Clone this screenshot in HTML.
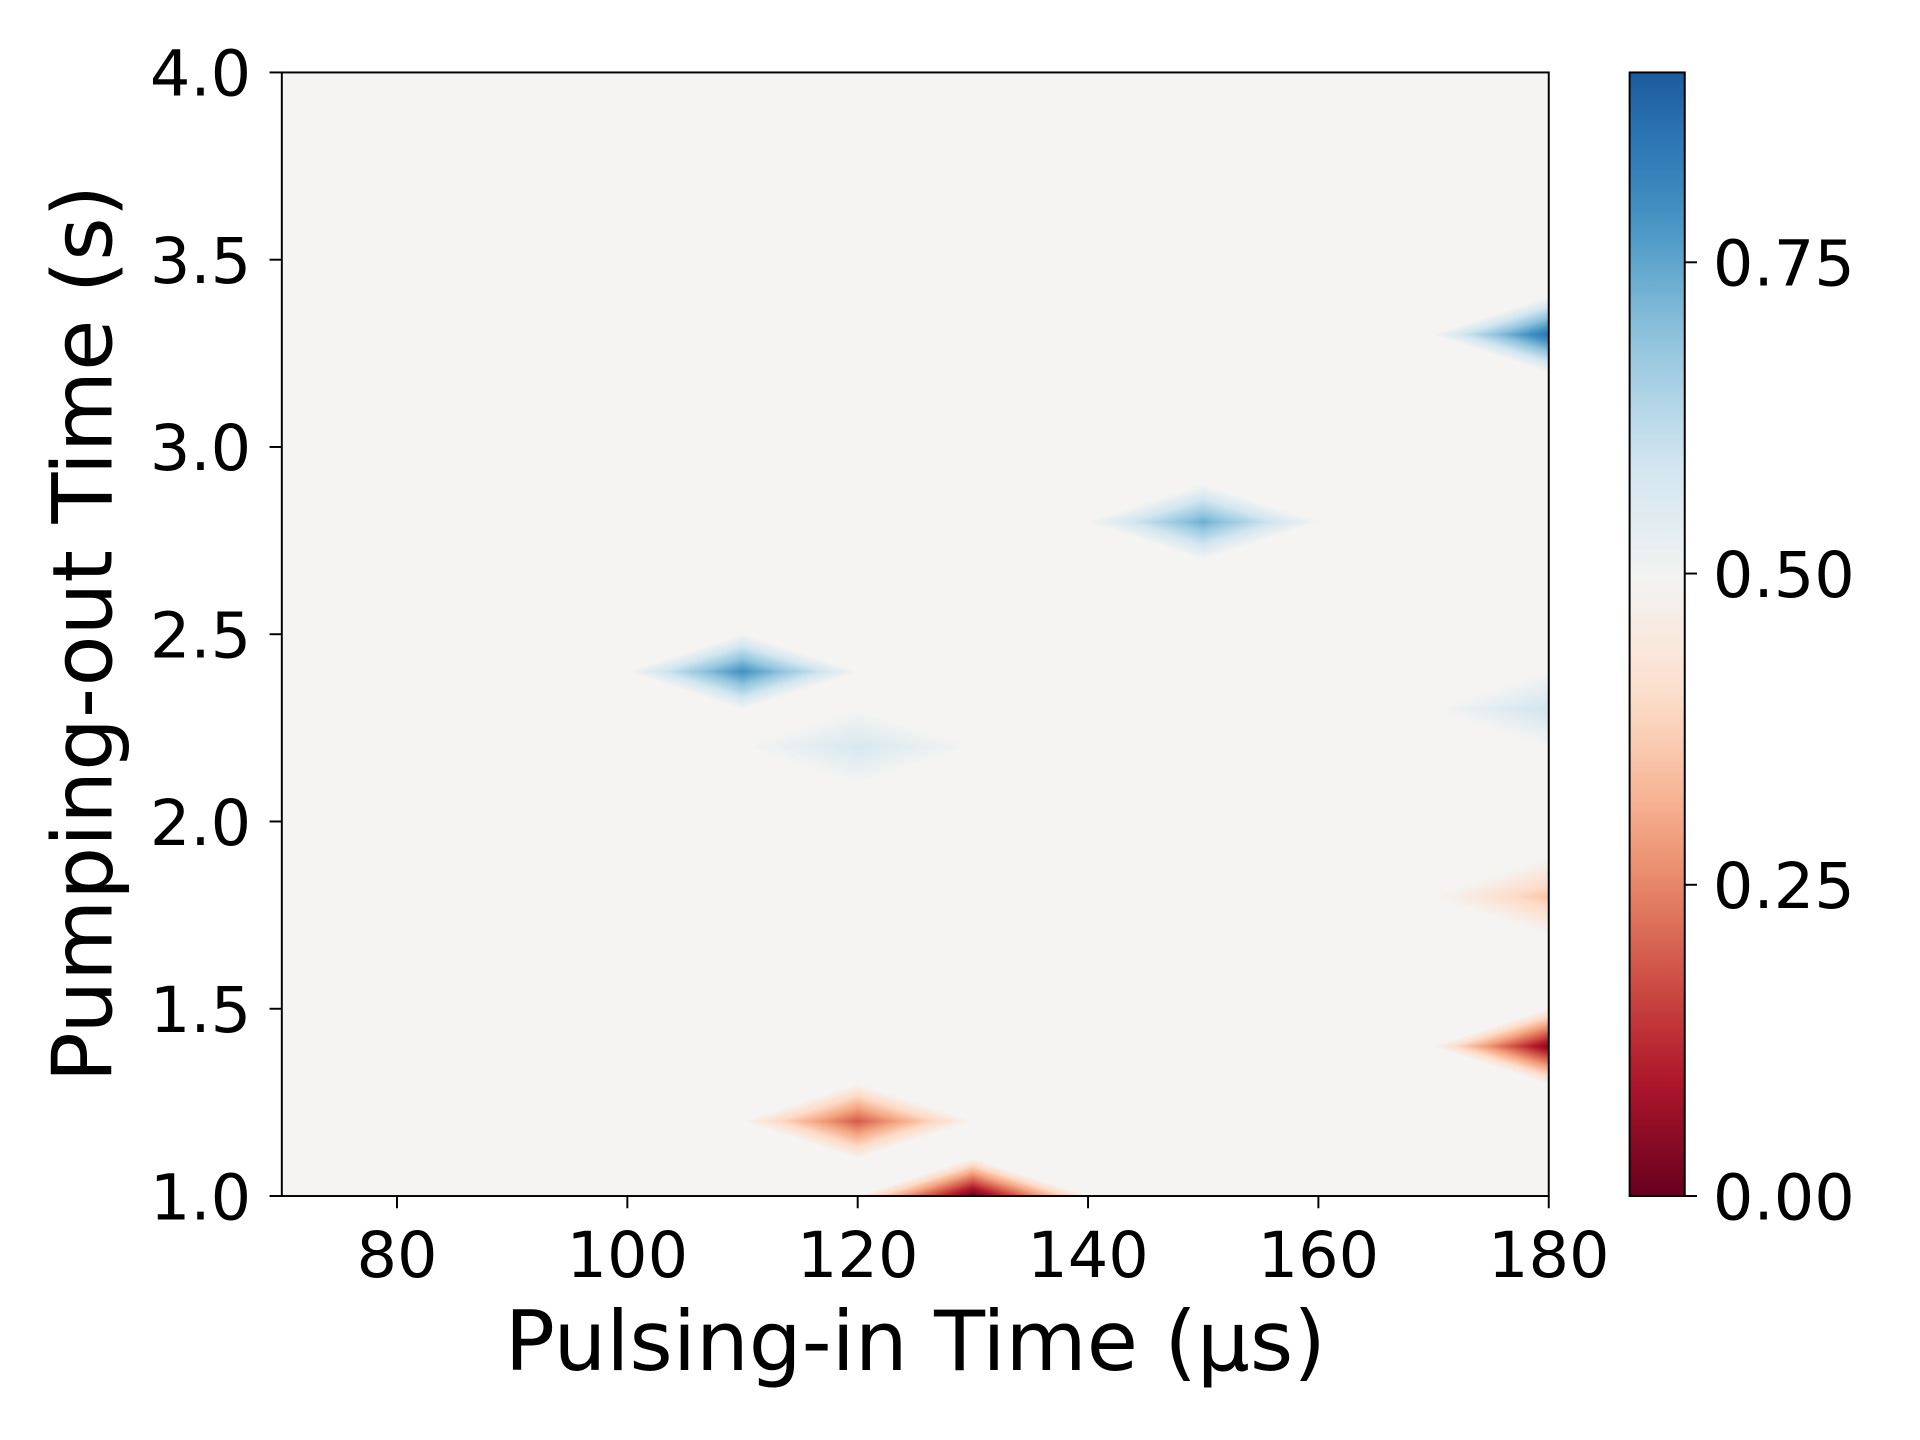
<!DOCTYPE html>
<html><head><meta charset="utf-8"><style>
html,body{margin:0;padding:0;background:#fff;}
svg{display:block;}
text{font-family:"DejaVu Sans","Liberation Sans",sans-serif;fill:#000;}
</style></head><body>
<svg id="chart" width="1920" height="1440" viewBox="0 0 1567 1175" xmlns="http://www.w3.org/2000/svg">
<defs>
<clipPath id="plotClip"><rect x="230" y="59" width="1034" height="917"/></clipPath>
<linearGradient id="cbGrad" x1="0" y1="1" x2="0" y2="0"></linearGradient>
</defs>
<rect x="230" y="59" width="1034" height="917" fill="#f5f4f2"/>
<g id="cells" clip-path="url(#plotClip)"></g>
<rect x="230" y="59" width="1034" height="917" fill="none" stroke="#000" stroke-width="1.6"/>
<g id="xticks"></g>
<g id="yticks"></g>
<text x="747" y="1118" font-size="68" text-anchor="middle">Pulsing-in Time (µs)</text>
<text transform="translate(91,517) rotate(-90)" font-size="68" text-anchor="middle">Pumping-out Time (s)</text>
<rect x="1330" y="59" width="45" height="917" fill="url(#cbGrad)" stroke="#000" stroke-width="1.6"/>
<g id="cbticks"></g>
</svg>
<script>
const xs = [110, 120, 150, 180, 180, 180, 180, 120, 130];
const ys = [2.4, 2.2, 2.8, 3.3, 2.3, 1.8, 1.4, 1.2, 1.0];
const vals = [0.80, 0.58, 0.74, 0.86, 0.60, 0.36, 0.05, 0.20, 0.0];
const xTicks = [80, 100, 120, 140, 160, 180];
const yTicks = [1.0, 1.5, 2.0, 2.5, 3.0, 3.5, 4.0];
const cbTicks = [0.0, 0.25, 0.5, 0.75];
const bgVal = 0.5;
const dX = 10, dY = 0.1;

const X = v => 230 + (v - 70) * 1034 / 110;
const Y = v => 976 - (v - 1) * 917 / 3;
const CB = v => 976 - v * 917 / 0.9025;

const rdbu = [[0,[103,0,31]],[0.1,[178,24,43]],[0.2,[214,96,77]],[0.3,[244,165,130]],[0.4,[253,219,199]],[0.5,[245,244,242]],[0.6,[209,229,240]],[0.7,[146,197,222]],[0.8,[67,147,195]],[0.9,[33,102,172]],[1,[5,48,97]]];
function cmap(t){
  t=Math.max(0,Math.min(1,t));
  for(let i=0;i<rdbu.length-1;i++){
    const [a,ca]=rdbu[i],[b,cb]=rdbu[i+1];
    if(t<=b){const f=(t-a)/(b-a);return 'rgb('+ca.map((c,k)=>Math.round(c+(cb[k]-c)*f)).join(',')+')';}
  }
  return 'rgb(5,48,97)';
}
const NS='http://www.w3.org/2000/svg';
function el(tag,attrs,parent){const e=document.createElementNS(NS,tag);for(const k in attrs)e.setAttribute(k,attrs[k]);parent.appendChild(e);return e;}

const g=document.getElementById('cells');
const steps=24;
for(let i=0;i<xs.length;i++){
  const cx=X(xs[i]), cy=Y(ys[i]);
  const rx=X(xs[i]+dX)-cx, ry=cy-Y(ys[i]+dY);
  for(let s=0;s<steps;s++){
    const f=1-s/steps;
    const v=bgVal+(vals[i]-bgVal)*(1-f+1/steps);
    const p=el('polygon',{points:`${cx-rx*f},${cy} ${cx},${cy-ry*f} ${cx+rx*f},${cy} ${cx},${cy+ry*f}`,fill:cmap(v)},g);
    
    
  }
}
const xg=document.getElementById('xticks');
xTicks.forEach(t=>{
  const l=el('line',{x1:X(t),x2:X(t),y1:976,y2:986,stroke:'#000','stroke-width':1.6},xg);
  
  
  const tx=el('text',{x:X(t),y:1042,'font-size':52,'text-anchor':'middle'},xg);
  tx.textContent=t;
  
  
});
const yg=document.getElementById('yticks');
yTicks.forEach(t=>{
  const l=el('line',{x1:220,x2:230,y1:Y(t),y2:Y(t),stroke:'#000','stroke-width':1.6},yg);
  
  
  const tx=el('text',{x:205,y:Y(t)+19,'font-size':52,'text-anchor':'end'},yg);
  tx.textContent=t.toFixed(1);
  
  
});
const grad=document.getElementById('cbGrad');
for(let i=0;i<=20;i++){const t=i/20*0.92;el('stop',{offset:i/20,'stop-color':cmap(t)},grad);}
const cg=document.getElementById('cbticks');
cbTicks.forEach(t=>{
  const l=el('line',{x1:1375,x2:1385,y1:CB(t),y2:CB(t),stroke:'#000','stroke-width':1.6},cg);
  
  
  const tx=el('text',{x:1398,y:CB(t)+19,'font-size':52},cg);
  tx.textContent=t.toFixed(2);
  
  
});
</script>
</body></html>
